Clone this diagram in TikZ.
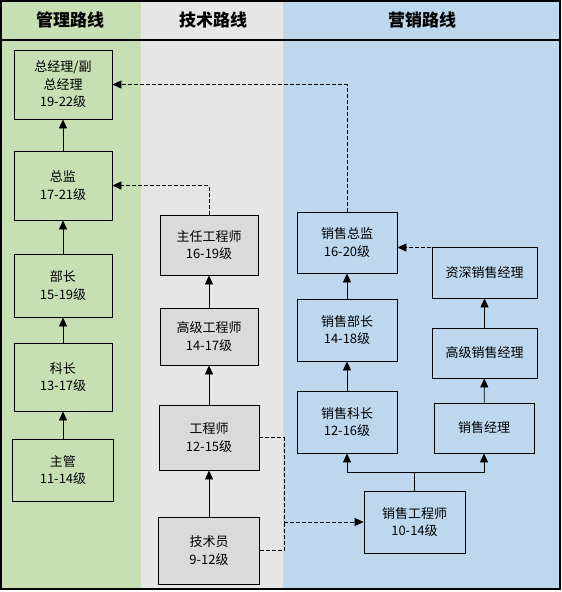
\documentclass[tikz,border=0pt]{standalone}
\usepackage{fontspec}
\setmainfont{Noto Sans CJK SC}
\usetikzlibrary{arrows.meta, positioning}
\definecolor{lanegreen}{HTML}{C6E0B4}
\definecolor{lanegray}{HTML}{E7E6E6}
\definecolor{laneblue}{HTML}{BDD7EE}
\definecolor{boxgray}{HTML}{DADADA}

\begin{document}
\begin{tikzpicture}[x=1pt, y=-1pt, >={Triangle[length=9pt,width=8pt]},
    post/.style={draw=black, line width=0.8pt, align=center, inner sep=0pt,
        font=\fontsize{13}{17.5}\selectfont},
    mgr/.style={post, fill=lanegreen, minimum width=98pt},
    tech/.style={post, fill=boxgray, minimum width=98pt},
    sale/.style={post, fill=laneblue, minimum width=100pt},
    up/.style={->, line width=0.8pt},
    dashline/.style={dash pattern=on 4pt off 2pt, line width=0.7pt},
    jump/.style={->, dashline},
    lane/.style={font=\fontsize{17}{20}\selectfont\bfseries}]
        \useasboundingbox (0,0) rectangle (562,592);
        % Lanes
        \fill[white] (0,0) rectangle (562,592);
        \fill[lanegreen] (0,0) rectangle (141,590);
        \fill[lanegray] (141,0) rectangle (283,590);
        \fill[laneblue] (283,0) rectangle (560,590);
        \draw[line width=2pt] (1,1) rectangle (560,589);
        \draw[line width=2pt] (1,40) -- (560,40);
        \node[lane] (hmgr) at (70,20) {管理路线};
        \node[lane] (htech) at (213,20) {技术路线};
        \node[lane] (hsale) at (422,20) {营销路线};
        
        % Management path
        \node[mgr, minimum height=69pt] (gm) at (63,84.5) {总经理/副\\总经理\\19-22级};
        \node[mgr, minimum height=69pt] (zj) at (63,185.5) {总监\\17-21级};
        \node[mgr, minimum height=63pt] (bz) at (63,285.5) {部长\\15-19级};
        \node[mgr, minimum height=68pt] (kz) at (63,377) {科长\\13-17级};
        \node[mgr, minimum height=62pt, minimum width=101pt] (zg) at (63,470) {主管\\11-14级};
        
        % Technical path
        \node[tech, minimum height=60pt] (zr) at (209,245) {主任工程师\\16-19级};
        \node[tech, minimum height=57pt] (gj) at (209,336.5) {高级工程师\\14-17级};
        \node[tech, minimum height=65pt, minimum width=100pt] (gcs) at (209,437.5) {工程师\\12-15级};
        \node[tech, minimum height=67pt, minimum width=101pt] (jsy) at (209,550.5) {技术员\\9-12级};
        
        % Sales path
        \node[sale, minimum height=61pt] (xszj) at (347,242.5) {销售总监\\16-20级};
        \node[sale, minimum height=62pt] (xsbz) at (347,330) {销售部长\\14-18级};
        \node[sale, minimum height=62pt] (xskz) at (347,422) {销售科长\\12-16级};
        \node[sale, minimum height=51pt, minimum width=105pt] (zsjl) at (484.5,272.5) {资深销售经理};
        \node[sale, minimum height=50pt, minimum width=105pt] (gjjl) at (484.5,353) {高级销售经理};
        \node[sale, minimum height=50pt] (xsjl) at (484,428) {销售经理};
        \node[sale, minimum height=62pt, minimum width=101pt] (xsgcs) at (414.5,522) {销售工程师\\10-14级};
        
        % Promotions
        \draw[up] (zg) -- (kz);
        \draw[up] (kz) -- (bz);
        \draw[up] (bz) -- (zj);
        \draw[up] (zj) -- (gm);
        \draw[up] (jsy) -- (gcs);
        \draw[up] (gcs) -- (gj);
        \draw[up] (gj) -- (zr);
        \draw[up] (xskz) -- (xsbz);
        \draw[up] (xsbz) -- (xszj);
        \draw[up] (xsjl) -- (gjjl);
        \draw[up] (gjjl) -- (zsjl);
        \coordinate (fork) at (414.5,472);
        \draw[line width=0.8pt] (xsgcs.north) -- (fork);
        \draw[up] (fork) -| (xskz.south);
        \draw[up] (fork) -| (xsjl.south);
        
        % Cross-path moves
        \draw[jump] (xszj.north) |- (gm.east);
        \draw[jump] (zr.north) |- (zj.east);
        \draw[jump] (zsjl.north) |- ([yshift=-5pt]xszj.east);
        \coordinate (merge) at (284,522);
        \draw[dashline] (gcs.east) -| (merge);
        \draw[dashline] (jsy.east) -| (merge);
        \draw[jump] (merge) -- (xsgcs.west);
    \end{tikzpicture}
\end{document}
